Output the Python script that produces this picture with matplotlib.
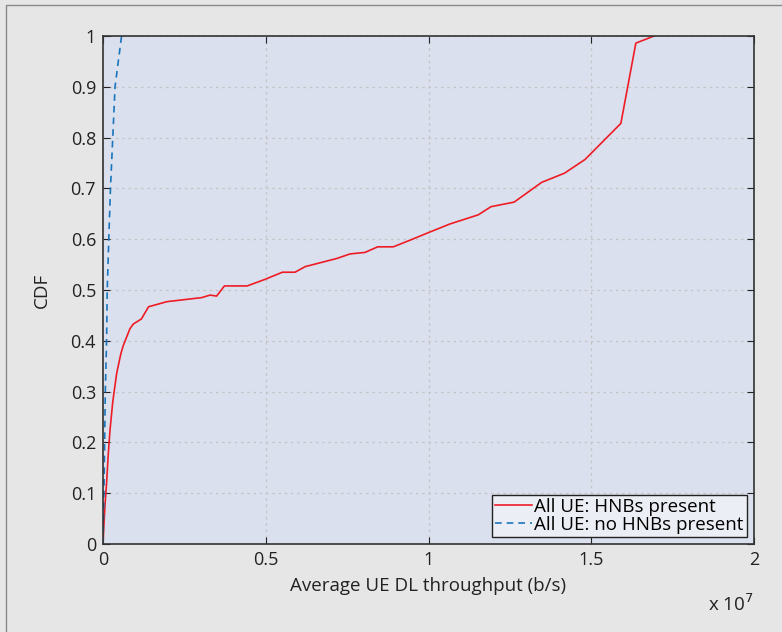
import numpy as np
import matplotlib.pyplot as plt
from matplotlib.patches import Rectangle

plt.rcParams['font.family'] = ['Open Sans', 'DejaVu Sans']

# throughput in units of 1e7 b/s, CDF values
hnb_x = [0.0, 0.003, 0.006, 0.011, 0.016, 0.0215, 0.03, 0.042, 0.055, 0.062,
         0.073, 0.083, 0.093, 0.118, 0.14, 0.196, 0.303,
         0.329, 0.349, 0.373, 0.443, 0.498, 0.551, 0.59, 0.621, 0.718, 0.759,
         0.805, 0.844, 0.892, 0.943, 1.0, 1.066, 1.153, 1.192, 1.263, 1.348,
         1.418, 1.481, 1.591, 1.637, 1.693]
hnb_cdf = [0.0, 0.04, 0.075, 0.12, 0.175, 0.224, 0.28, 0.336, 0.375, 0.39,
           0.408, 0.424, 0.433, 0.443, 0.467, 0.477, 0.485,
           0.49, 0.488, 0.508, 0.508, 0.521, 0.535, 0.535, 0.546, 0.562, 0.571,
           0.574, 0.585, 0.585, 0.598, 0.613, 0.630, 0.648, 0.664, 0.673, 0.712,
           0.730, 0.757, 0.828, 0.986, 1.0]

nohnb_x = [0.0, 0.003, 0.005, 0.007, 0.011, 0.013, 0.018, 0.023, 0.030, 0.037, 0.057]
nohnb_cdf = [0.0, 0.106, 0.2, 0.297, 0.40, 0.5, 0.605, 0.70, 0.80, 0.90, 1.0]

fig = plt.figure(figsize=(7.82, 6.32), dpi=100)
fig.patch.set_facecolor('#e6e6e6')
# outer frame (only left and top edges fall inside the image)
fig.patches.append(Rectangle((6 / 782, -0.1), 1.2, 1.1 - 5 / 632,
                             transform=fig.transFigure, fill=False,
                             edgecolor='#8a8a8a', linewidth=1.0))

ax = fig.add_axes([103 / 782, 88 / 632, 651 / 782, 508 / 632])
ax.set_facecolor('#dbe0ee')

ax.plot(hnb_x, hnb_cdf, color='#ee1c25', linewidth=1.2, label='All UE: HNBs present')
ax.plot(nohnb_x, nohnb_cdf, color='#1a75bc', linewidth=1.2, linestyle=(0, (4, 3)),
        label='All UE: no HNBs present')

ax.set_xlim(0, 2)
ax.set_ylim(0, 1)
ax.set_xticks([0, 0.5, 1, 1.5, 2])
ax.set_xticklabels(['0', '0.5', '1', '1.5', '2'])
ax.set_yticks(np.arange(0, 1.01, 0.1))
ax.set_yticklabels(['0', '0.1', '0.2', '0.3', '0.4', '0.5', '0.6', '0.7', '0.8', '0.9', '1'])
ax.tick_params(direction='in', top=True, right=True, labelsize=13, length=5,
               colors='#222222', pad=5)
ax.grid(True, color='#c4c4c4', linestyle=(0, (2, 3)), linewidth=0.9)
for s in ax.spines.values():
    s.set_color('#333333')
    s.set_linewidth(1.2)

ax.set_xlabel('Average UE DL throughput (b/s)', fontsize=13.5, color='#222222', labelpad=6)
ax.set_ylabel('CDF', fontsize=13.5, color='#222222', labelpad=14)
fig.text(731 / 782, 1 - 604 / 632, r'x 10$^7$', fontsize=13.5, color='#222222',
         ha='center', va='center')

leg = ax.legend(loc='lower right', fontsize=13.5, frameon=True, fancybox=False,
                handlelength=2.0, handletextpad=0.1, borderpad=0.15,
                labelspacing=0.0, borderaxespad=0.4)
leg.get_frame().set_edgecolor('#222222')
leg.get_frame().set_facecolor('#eceef5')
leg.get_frame().set_alpha(1)
leg.get_frame().set_linewidth(1.0)

fig.savefig('out.png', dpi=100, facecolor=fig.get_facecolor())
